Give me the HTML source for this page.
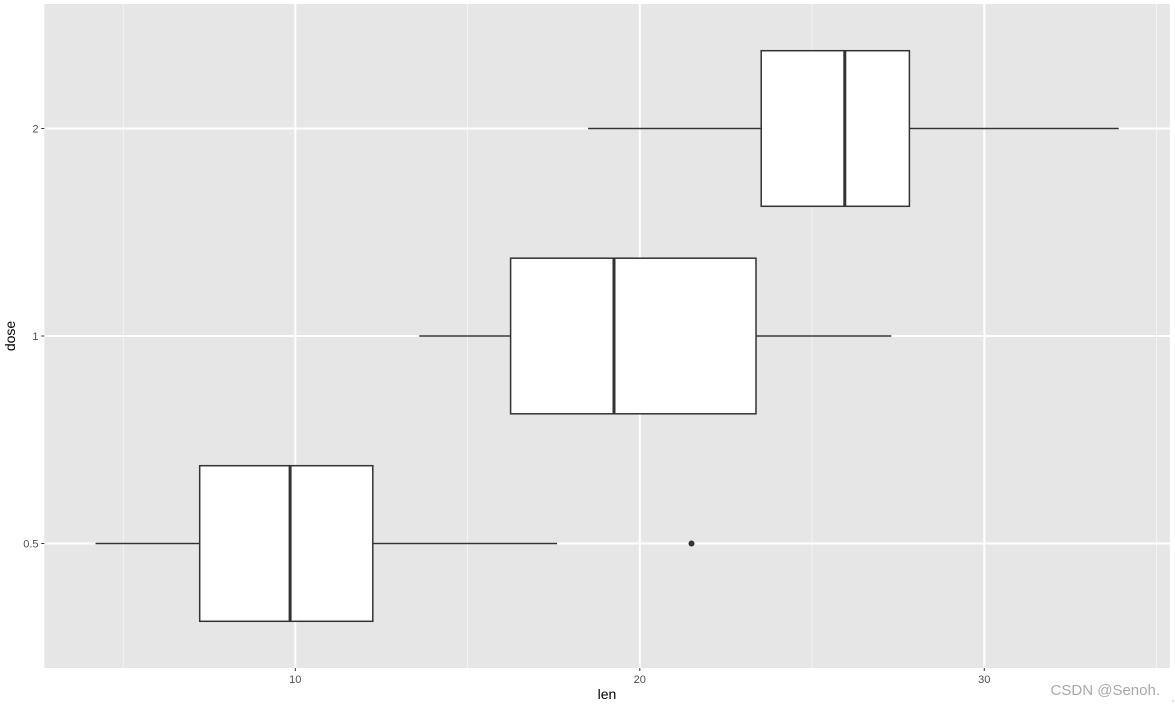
<!DOCTYPE html>
<html><head><meta charset="utf-8"><style>
html,body{margin:0;padding:0;background:#fff;}
svg{display:block;}
</style></head><body>
<svg width="1175" height="706" viewBox="0 0 1175 706" xmlns="http://www.w3.org/2000/svg" font-family="Liberation Sans, Arial, sans-serif">
<rect x="0" y="0" width="1175" height="706" fill="#fff"/>
<rect x="44.3" y="4" width="1125.5" height="664" fill="#e6e6e6"/>
<!-- minor grid -->
<g stroke="#f2f2f2" stroke-width="1">
<line x1="123.3" y1="4" x2="123.3" y2="668"/>
<line x1="467.5" y1="4" x2="467.5" y2="668"/>
<line x1="812" y1="4" x2="812" y2="668"/>
<line x1="1156.5" y1="4" x2="1156.5" y2="668"/>
</g>
<!-- major grid -->
<g stroke="#fff" stroke-width="2">
<line x1="295.3" y1="4" x2="295.3" y2="668"/>
<line x1="639.8" y1="4" x2="639.8" y2="668"/>
<line x1="984.3" y1="4" x2="984.3" y2="668"/>
<line x1="44.3" y1="128.5" x2="1169.8" y2="128.5"/>
<line x1="44.3" y1="336" x2="1169.8" y2="336"/>
<line x1="44.3" y1="543.5" x2="1169.8" y2="543.5"/>
</g>
<!-- boxes -->
<g stroke="#333" stroke-width="1.5" fill="#fff">
<!-- 0.5 -->
<line x1="95.5" y1="543.5" x2="199.7" y2="543.5"/>
<line x1="372.8" y1="543.5" x2="557.1" y2="543.5"/>
<rect x="199.7" y="465.7" width="173.1" height="155.6"/>
<line x1="290.1" y1="465.7" x2="290.1" y2="621.3" stroke-width="3"/>
<!-- 1 -->
<line x1="419.3" y1="336" x2="510.6" y2="336"/>
<line x1="756" y1="336" x2="891.3" y2="336"/>
<rect x="510.6" y="258.2" width="245.4" height="155.6"/>
<line x1="614" y1="258.2" x2="614" y2="413.8" stroke-width="3"/>
<!-- 2 -->
<line x1="588.1" y1="128.5" x2="761.2" y2="128.5"/>
<line x1="909.4" y1="128.5" x2="1118.7" y2="128.5"/>
<rect x="761.2" y="50.7" width="148.2" height="155.6"/>
<line x1="844.8" y1="50.7" x2="844.8" y2="206.3" stroke-width="3"/>
</g>
<circle cx="691.5" cy="543.5" r="3" fill="#333"/>
<!-- ticks -->
<g stroke="#333" stroke-width="1">
<line x1="295.3" y1="668" x2="295.3" y2="671"/>
<line x1="639.8" y1="668" x2="639.8" y2="671"/>
<line x1="984.3" y1="668" x2="984.3" y2="671"/>
<line x1="41.3" y1="128.5" x2="44.3" y2="128.5"/>
<line x1="41.3" y1="336" x2="44.3" y2="336"/>
<line x1="41.3" y1="543.5" x2="44.3" y2="543.5"/>
</g>
<g fill="#4d4d4d" font-size="11">
<text x="295.3" y="683" text-anchor="middle">10</text>
<text x="639.8" y="683" text-anchor="middle">20</text>
<text x="984.3" y="683" text-anchor="middle">30</text>
<text x="38.5" y="132.5" text-anchor="end">2</text>
<text x="38.5" y="340" text-anchor="end">1</text>
<text x="38.5" y="547.5" text-anchor="end">0.5</text>
</g>
<text x="607" y="699" text-anchor="middle" font-size="14" fill="#000">len</text>
<text transform="translate(15,336) rotate(-90)" text-anchor="middle" font-size="14" fill="#000">dose</text>
<text x="1160" y="695" text-anchor="end" font-size="15" fill="#a8a8a8">CSDN @Senoh.</text>
<rect x="1172.5" y="700.5" width="1" height="1" fill="#888"/>
</svg>
</body></html>
